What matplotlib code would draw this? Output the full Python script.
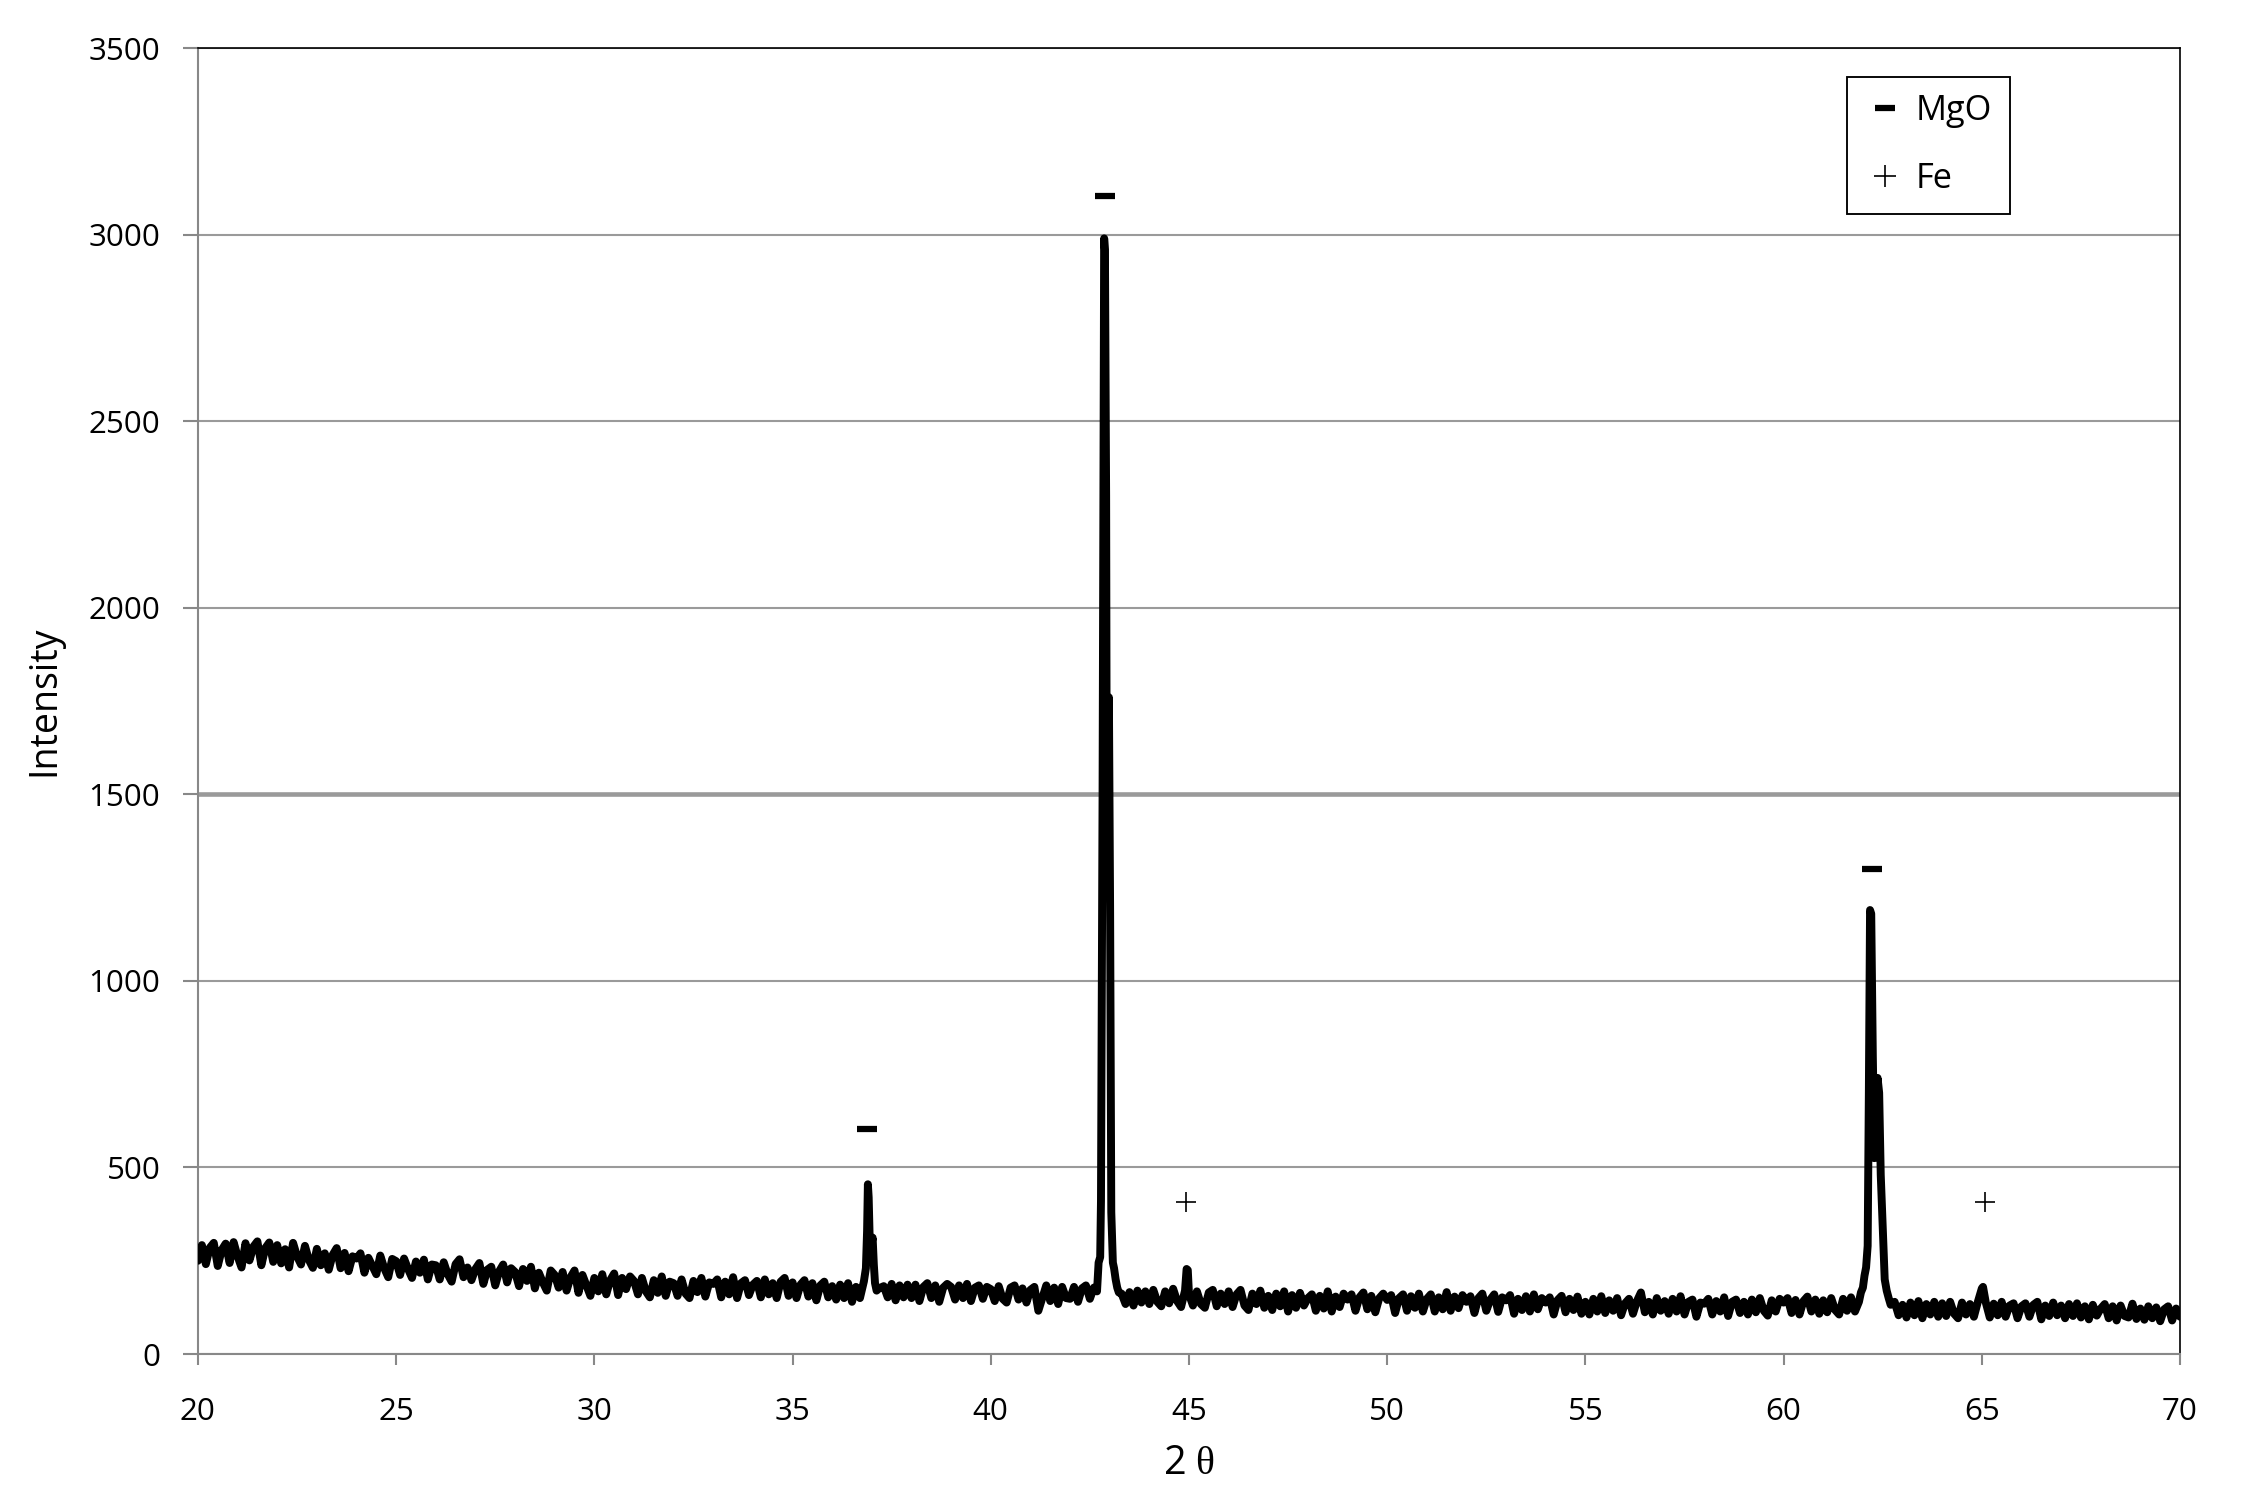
import numpy as np
import matplotlib.pyplot as plt
from matplotlib.lines import Line2D

plt.rcParams['font.family'] = ['Open Sans', 'DejaVu Sans']
plt.rcParams['mathtext.fontset'] = 'custom'
plt.rcParams['mathtext.rm'] = 'Liberation Serif'

# Baseline read every 0.1 deg, one row per degree (20 ... 69), last point at 70
base_rows = [
    [250, 292, 241, 285, 298, 236, 279, 296, 244, 300],  # 20
    [262, 232, 297, 251, 288, 302, 238, 284, 299, 247],  # 21
    [292, 243, 281, 232, 298, 262, 240, 290, 252, 231],  # 22
    [282, 238, 270, 226, 266, 284, 230, 271, 222, 262],  # 23
    [256, 270, 218, 258, 236, 214, 264, 230, 206, 255],  # 24
    [249, 212, 256, 228, 204, 248, 218, 253, 200, 240],  # 25
    [238, 200, 246, 214, 194, 241, 254, 206, 232, 198],  # 26
    [228, 244, 188, 226, 234, 184, 222, 240, 192, 230],  # 27
    [220, 182, 228, 196, 234, 176, 218, 192, 170, 224],  # 28
    [212, 178, 220, 170, 206, 224, 164, 212, 184, 156],  # 29
    [204, 168, 214, 160, 198, 216, 158, 204, 174, 208],  # 30
    [196, 160, 204, 168, 152, 198, 164, 208, 156, 194],  # 31
    [190, 156, 200, 162, 150, 196, 166, 204, 154, 192],  # 32
    [188, 200, 152, 194, 160, 206, 150, 190, 198, 158],  # 33
    [186, 196, 152, 200, 160, 190, 150, 194, 204, 156],  # 34
    [192, 150, 186, 198, 154, 190, 144, 184, 194, 152],  # 35
    [182, 146, 186, 150, 190, 140, 180, 150, 185, 158],  # 36
    [176, 184, 146, 182, 152, 188, 144, 184, 152, 186],  # 37
    [150, 186, 142, 180, 190, 150, 184, 140, 178, 188],  # 38
    [180, 146, 184, 150, 188, 142, 178, 184, 148, 180],  # 39
    [174, 142, 182, 148, 138, 178, 184, 146, 176, 138],  # 40
    [172, 180, 116, 150, 184, 142, 178, 134, 180, 150],  # 41
    [148, 180, 140, 176, 184, 148, 178, 188, 172, 180],  # 42
    [175, 185, 170, 162, 134, 166, 130, 170, 138, 168],  # 43
    [134, 172, 140, 128, 168, 136, 175, 142, 126, 170],  # 44
    [160, 130, 168, 134, 124, 165, 172, 128, 162, 134],  # 45
    [168, 126, 160, 172, 130, 118, 162, 134, 170, 124],  # 46
    [156, 118, 162, 128, 168, 114, 158, 124, 164, 130],  # 47
    [150, 160, 116, 156, 122, 168, 114, 154, 126, 162],  # 48
    [146, 160, 116, 152, 165, 120, 156, 112, 150, 162],  # 49
    [145, 158, 110, 150, 160, 116, 155, 124, 162, 114],  # 50
    [148, 160, 114, 152, 120, 166, 116, 154, 123, 158],  # 51
    [140, 155, 110, 150, 162, 116, 146, 160, 113, 152],  # 52
    [144, 158, 108, 148, 118, 155, 114, 160, 120, 150],  # 53
    [138, 152, 106, 145, 156, 112, 148, 118, 154, 108],  # 54
    [140, 106, 148, 114, 155, 110, 144, 116, 150, 104],  # 55
    [136, 148, 108, 142, 165, 112, 140, 106, 150, 116],  # 56
    [142, 108, 148, 114, 155, 106, 140, 146, 100, 138],  # 57
    [135, 148, 106, 142, 114, 152, 102, 140, 146, 110],  # 58
    [140, 106, 146, 112, 150, 116, 103, 144, 114, 148],  # 59
    [138, 150, 110, 145, 106, 142, 154, 114, 146, 108],  # 60
    [144, 112, 150, 118, 106, 148, 116, 152, 114, 146],  # 61
    [140, 150, 160, 175, 200, 300, 300, 132, 140, 104],  # 62
    [132, 98, 138, 104, 142, 96, 134, 106, 140, 100],  # 63
    [136, 102, 140, 108, 96, 138, 106, 134, 100, 140],  # 64
    [132, 138, 98, 135, 104, 140, 100, 130, 136, 96],  # 65
    [128, 136, 100, 132, 140, 93, 130, 102, 138, 104],  # 66
    [130, 96, 134, 102, 136, 98, 128, 93, 132, 103],  # 67
    [122, 134, 96, 128, 90, 130, 102, 98, 135, 94],  # 68
    [122, 92, 128, 96, 125, 88, 120, 128, 90, 122],  # 69
]
base_last = 100  # 70.0

# Peaks (finer reading)
peak_windows = [(36.72, 37.2), (42.62, 43.25), (61.88, 62.68)]
peak_x = [36.75, 36.80, 36.85, 36.88, 36.90, 36.92, 36.95, 36.98, 37.00, 37.02, 37.05, 37.08, 37.12, 37.18,
          42.64, 42.68, 42.72, 42.76, 42.78, 42.82, 42.86, 42.88, 42.91, 42.93, 42.96, 42.98, 43.01, 43.04,
          43.08, 43.11, 43.15, 43.19, 43.23,
          61.90, 61.95, 62.00, 62.04, 62.08, 62.12, 62.15, 62.18, 62.21, 62.25, 62.29, 62.33, 62.37, 62.41,
          62.45, 62.50, 62.55, 62.60, 62.65]
peak_y = [172, 195, 230, 330, 455, 420, 290, 250, 300, 312, 240, 190, 170, 176,
          175, 168, 245, 260, 410, 1500, 2990, 2960, 2300, 1250, 1400, 1760, 1200, 380,
          245, 230, 200, 178, 165,
          140, 165, 178, 210, 232, 290, 700, 1190, 1180, 800, 525, 650, 740, 700,
          480, 340, 200, 170, 150]

# small Fe reflections
fe_x = [44.94, 44.97, 65.0, 65.03]
fe_y = [228, 225, 176, 180]

# marker positions above the reflections
mgo_x = [36.87, 42.87, 62.23]
mgo_y = [603, 3103, 1301]
fe_mark_x = [44.93, 65.09]
fe_mark_y = [407, 407]

# assemble pattern
bx = []
by = []
for i, row in enumerate(base_rows):
    for j, v in enumerate(row):
        bx.append(round(20 + i + 0.1 * j, 2))
        by.append(v)
bx.append(70.0)
by.append(base_last)

x_all = []
y_all = []
for xv, yv in zip(bx, by):
    if any(a <= xv <= b for a, b in peak_windows):
        continue
    if 44.9 < xv < 45.0 or 64.95 < xv < 65.05:
        continue
    x_all.append(xv)
    y_all.append(yv)
x_all += peak_x + fe_x
y_all += peak_y + fe_y
order = np.argsort(x_all)
x_all = np.array(x_all)[order]
y_all = np.array(y_all)[order]

fig = plt.figure(figsize=(14.96, 10.02), dpi=150)
ax = fig.add_axes([0.0882, 0.0991, 0.8833, 0.8689])

ax.plot(x_all, y_all, color='black', lw=3.8, solid_joinstyle='round', solid_capstyle='round', zorder=3)

ax.plot(mgo_x, mgo_y, linestyle='none', marker='_', markersize=10, markeredgewidth=3, color='black', zorder=4)
ax.plot(fe_mark_x, fe_mark_y, linestyle='none', marker='+', markersize=10, markeredgewidth=0.8, color='black', zorder=4)

ax.set_xlim(20, 70)
ax.set_ylim(0, 3500)
ax.set_xticks(np.arange(20, 71, 5))
ax.set_yticks(np.arange(0, 3501, 500))

ax.grid(axis='y', color='#9a9a9a', lw=1.0)
ax.set_axisbelow(True)
ax.get_ygridlines()[3].set_linewidth(2.2)

for s in ['left', 'bottom']:
    ax.spines[s].set_color('#888888')
    ax.spines[s].set_linewidth(1.0)
for s in ['top', 'right']:
    ax.spines[s].set_color('black')
    ax.spines[s].set_linewidth(0.8)

ax.tick_params(axis='y', direction='out', length=7, width=1.0, color='#888888', labelsize=15, pad=11)
ax.tick_params(axis='x', direction='out', length=5.5, width=1.0, color='#888888', labelsize=15, pad=15)

ax.set_ylabel('Intensity', fontsize=18, labelpad=12)
ax.set_xlabel(r'2 $\mathrm{\theta}$', fontsize=19, labelpad=8)

handles = [Line2D([], [], linestyle='none', marker='_', markersize=10, markeredgewidth=3, color='black'),
           Line2D([], [], linestyle='none', marker='+', markersize=11, markeredgewidth=0.8, color='black')]
leg = ax.legend(handles, ['MgO', 'Fe'], loc='upper right', bbox_to_anchor=(0.914, 0.978), borderaxespad=0,
                fontsize=16.5, fancybox=False, framealpha=1, edgecolor='black', labelspacing=1.0,
                handlelength=1.2, handletextpad=0.3, borderpad=0.5)
leg.get_frame().set_linewidth(0.9)

fig.savefig('out.png', dpi=150)
